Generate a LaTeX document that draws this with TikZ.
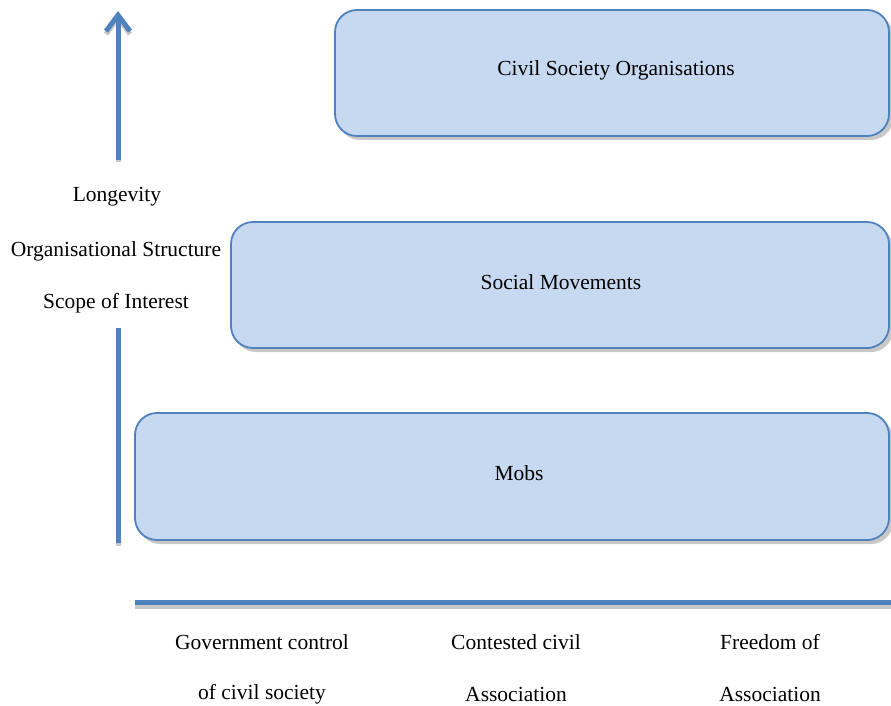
\documentclass[tikz,border=0pt]{standalone}
\usepackage{fontspec}
\setmainfont{Liberation Serif}
\usetikzlibrary{arrows.meta,calc}
\definecolor{boxfill}{HTML}{C6D9F1}
\definecolor{boxline}{HTML}{4F81BD}
\definecolor{shade}{HTML}{C8C8C8}
\begin{document}
\begin{tikzpicture}[x=1pt,y=-1pt,
  lbl/.style={font=\fontsize{21.5}{24}\selectfont, inner sep=0pt, anchor=center},
  tier/.style={draw=boxline, line width=1.8pt, fill=boxfill, rounded corners=22pt},
  tiershadow/.style={fill=shade, rounded corners=22pt},
  axis/.style={draw=boxline, line width=5pt},
  axisshadow/.style={draw=shade, line width=5pt},
  uphead/.style={-{Straight Barb[length=16pt,width=24pt]}}]
\useasboundingbox (0,0) rectangle (891,706);

% tier boxes with a soft drop shadow
\fill[tiershadow] (338,14) rectangle (893,140);
\path[tier] (335,10) rectangle (889,136);
\fill[tiershadow] (234,226) rectangle (893,352);
\path[tier] (231,222) rectangle (889,348);
\fill[tiershadow] (138,417) rectangle (893,544);
\path[tier] (135,413) rectangle (889,540);

\node[lbl] (cso) at (616,70) {Civil Society Organisations};
\node[lbl] (sm) at (561,282) {Social Movements};
\node[lbl] (mobs) at (519,473) {Mobs};

% vertical axis: arrow on top, plain bar below the labels
\coordinate (upbase) at (118,160);
\coordinate (uptip) at (118,11);
\draw[axisshadow, uphead] ($(upbase)+(0,2)$) -- ($(uptip)+(0,3)$);
\draw[axis, uphead] (upbase) -- (uptip);

\coordinate (bartop) at (118,328);
\coordinate (barbot) at (118,543);
\draw[axisshadow] ($(bartop)+(0,3)$) -- ($(barbot)+(0,3)$);
\draw[axis] (bartop) -- (barbot);

\node[lbl] (longev) at (117,197) {Longevity};
\node[lbl] (orgs) at (116,251) {Organisational Structure};
\node[lbl] (scope) at (116,303) {Scope of Interest};

% horizontal axis
\coordinate (hleft) at (135,602);
\coordinate (hright) at (891,602);
\draw[axisshadow] ($(hleft)+(0,4)$) -- ($(hright)+(0,4)$);
\draw[axis] (hleft) -- (hright);

\node[lbl] (gov1) at (262,642) {Government control};
\node[lbl] (gov2) at (262,694) {of civil society};
\node[lbl] (con1) at (516,642) {Contested civil};
\node[lbl] (con2) at (516,694) {Association};
\node[lbl] (fre1) at (770,642) {Freedom of};
\node[lbl] (fre2) at (770,694) {Association};
\end{tikzpicture}
\end{document}
